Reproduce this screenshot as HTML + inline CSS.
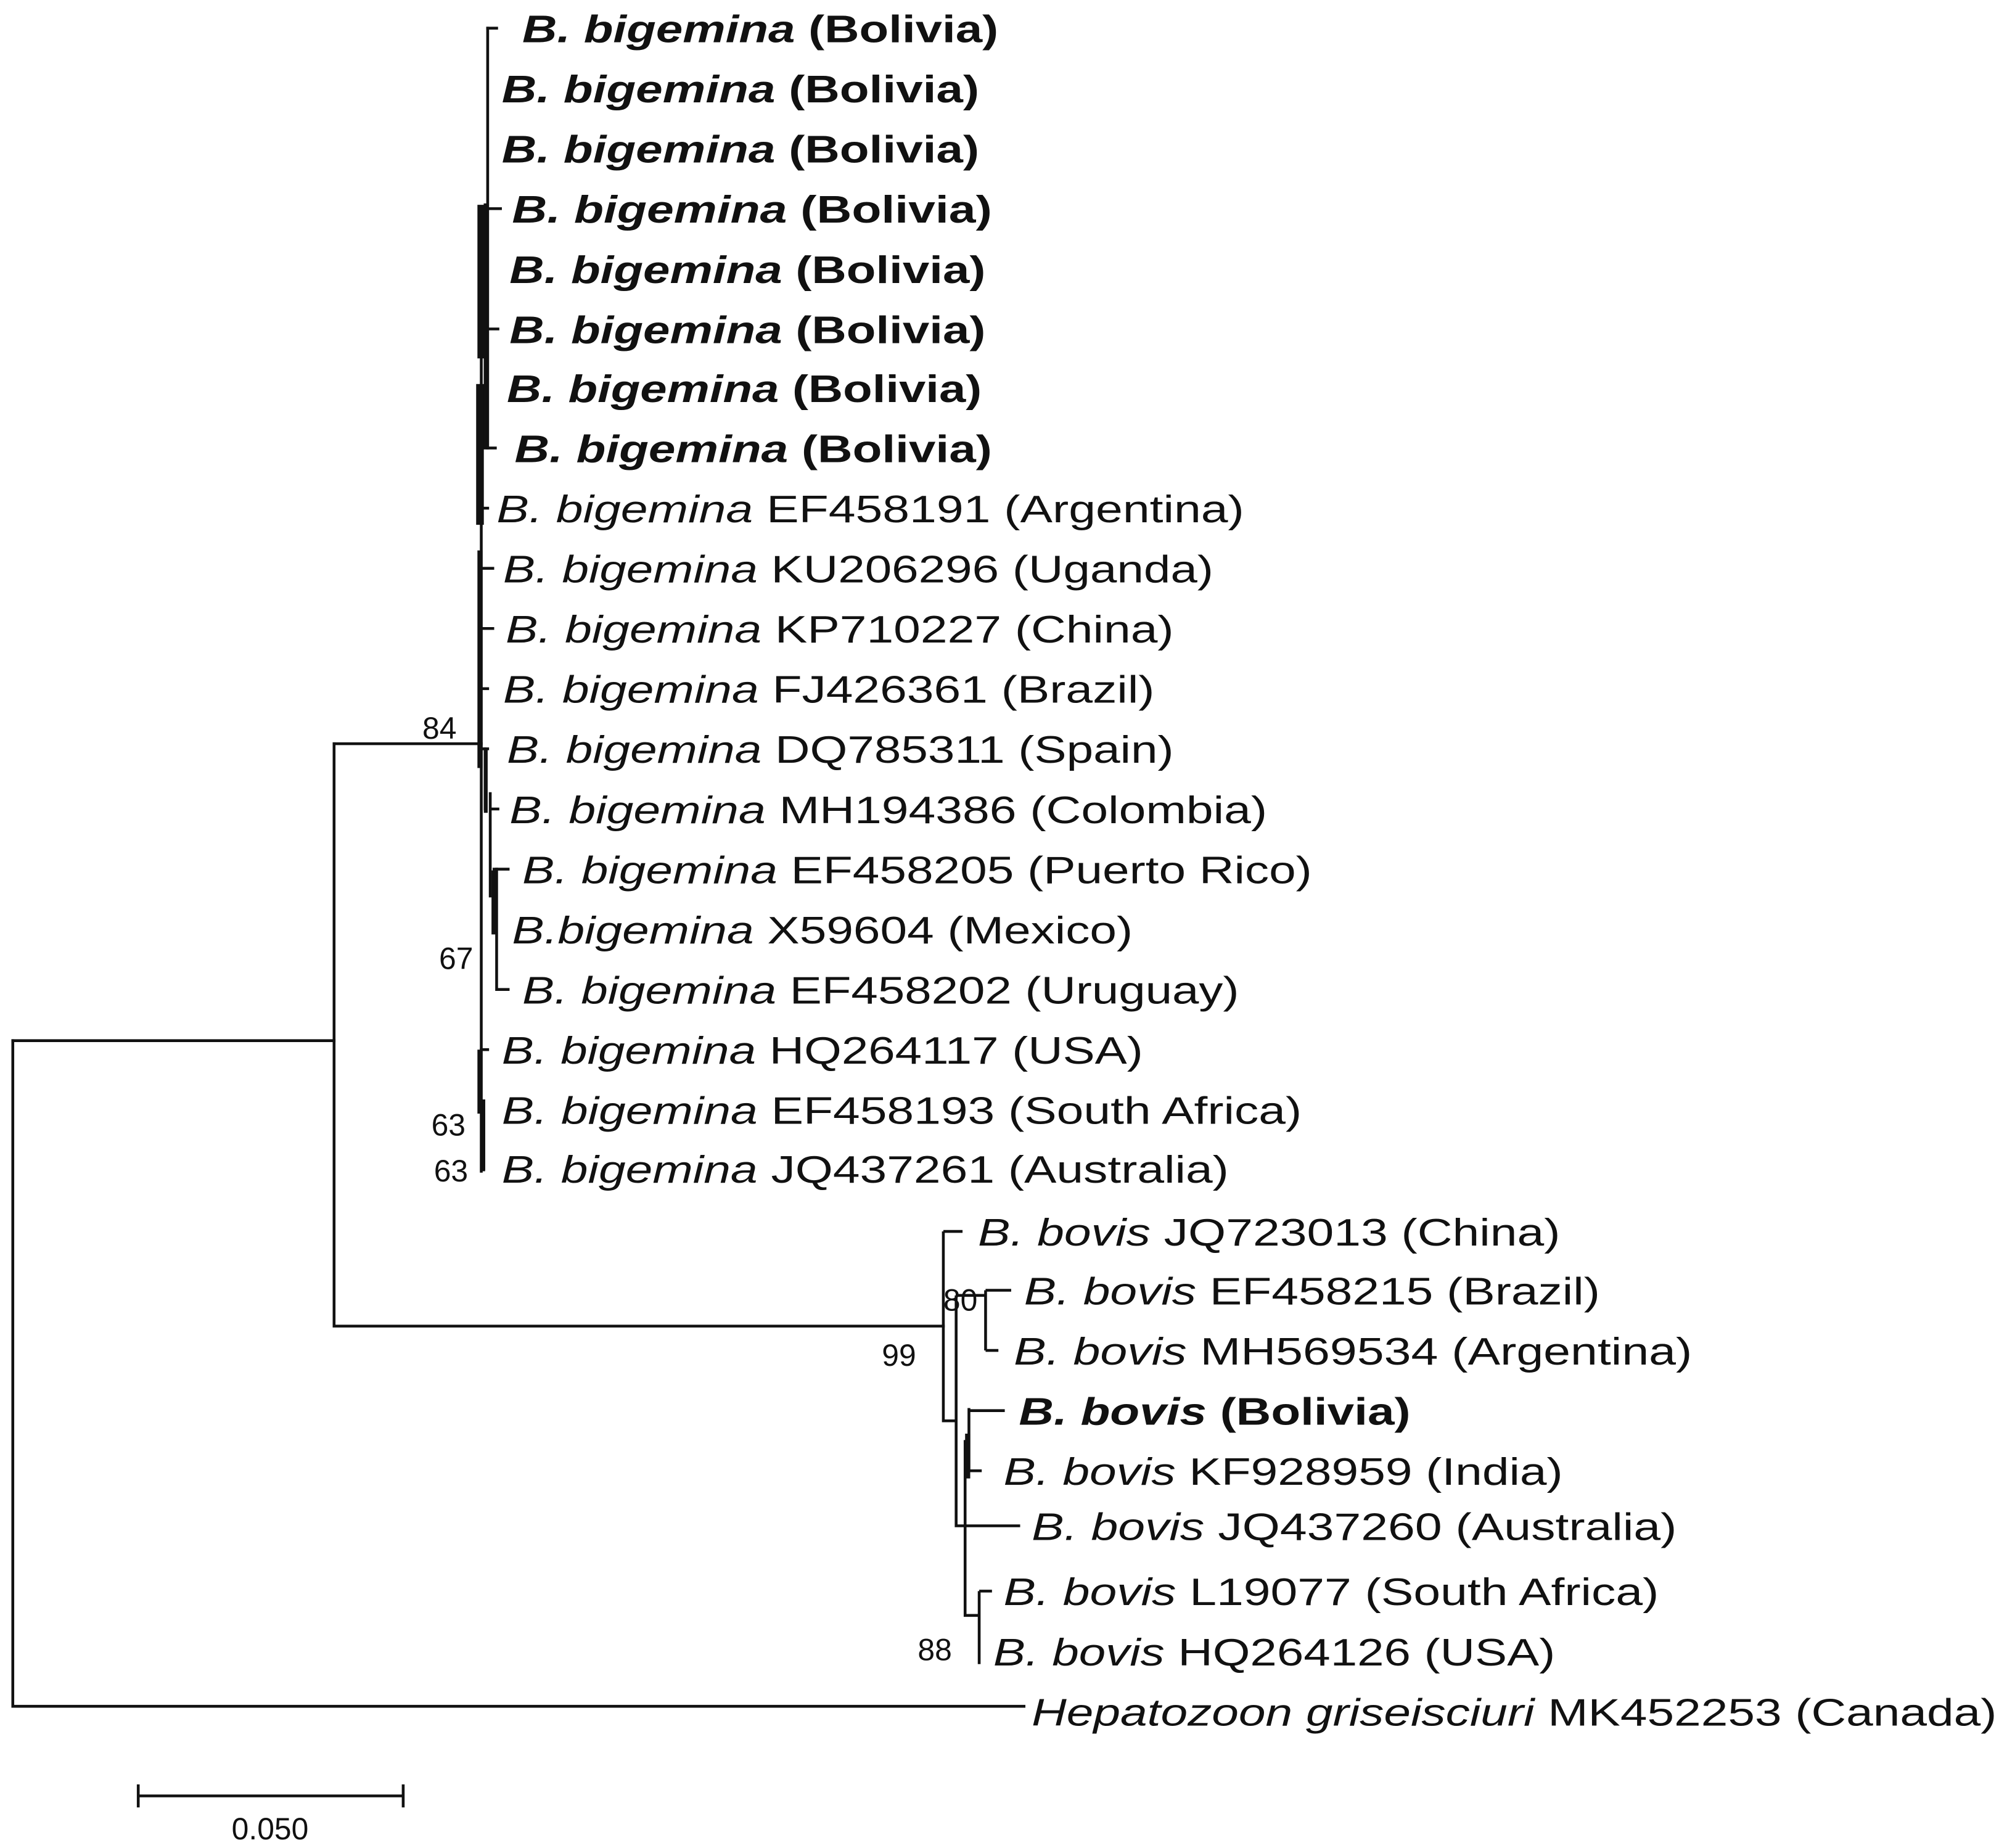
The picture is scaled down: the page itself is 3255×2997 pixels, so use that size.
<!DOCTYPE html>
<html><head><meta charset="utf-8"><style>
html,body{margin:0;padding:0;background:#fff;}
svg{display:block;}
text{font-family:"Liberation Sans",Arial,sans-serif;fill:#111;}
</style></head><body>
<svg width="3255" height="2997" viewBox="0 0 1568 1443.7" preserveAspectRatio="none" xmlns="http://www.w3.org/2000/svg">
<g stroke="#111" stroke-width="2.2" fill="none" stroke-linecap="square">
<path d="M10,813 V1333 H800"/>
<path d="M10,813 H261"/>
<path d="M261,581 V1036 H737"/>
<path d="M261,581 H376"/>
<path d="M381,22 V350"/>
<path d="M381,22 H388"/>
<path d="M381,350 H387"/>
<path d="M376,170 V915"/>
<path d="M379,160 V350"/>
<path d="M381,163 H391"/>
<path d="M381,257 H389"/>
<path d="M376,397 H381"/>
<path d="M376,444 H385"/>
<path d="M376,491 H385"/>
<path d="M376,538 H381"/>
<path d="M376,585 H381"/>
<path d="M379,585 V632"/>
<path d="M383,620 V700"/>
<path d="M385,632 H389"/>
<path d="M386,679 H397"/>
<path d="M388,679 V773 H397"/>
<path d="M376,820 H381"/>
<path d="M378,860 V913"/>
</g>
<g fill="#111">
<rect x="373" y="160" width="6" height="120"/>
<rect x="372" y="300" width="6" height="110"/>
<rect x="373" y="430" width="4" height="170"/>
<rect x="378" y="585" width="3" height="50"/>
<rect x="384" y="680" width="4" height="50"/>
<rect x="373" y="820" width="4" height="50"/>
<rect x="375" y="870" width="4" height="45"/>
</g>
<g stroke="#111" stroke-width="2.2" fill="none">
<path d="M737,962 V1110 H747"/>
<path d="M737,962 H752"/>
<path d="M747,1012 V1192 H797"/>
<path d="M747,1012 H770"/>
<path d="M770,1008 V1055"/>
<path d="M770,1008 H790"/>
<path d="M770,1055 H780"/>
<path d="M757,1100 V1150"/>
<path d="M757,1102 H785"/>
<path d="M757,1149 H767"/>
<path d="M754,1125 V1262 H765"/>
<path d="M765,1243 V1300"/>
<path d="M765,1243 H775"/>
</g>
<rect x="754" y="1120" width="4" height="35" fill="#111"/>
<g stroke="#111" stroke-width="2.2">
<path d="M107,1403 H316"/>
<path d="M108,1394 V1412"/>
<path d="M315,1394 V1412"/>
</g>
<text x="211" y="1437" font-size="24" text-anchor="middle">0.050</text>
<g font-size="24">
<text x="330" y="577">84</text>
<text x="343" y="757">67</text>
<text x="337" y="887">63</text>
<text x="339" y="923">63</text>
<text x="737" y="1024">80</text>
<text x="689" y="1067">99</text>
<text x="717" y="1297">88</text>
</g>
<g font-size="30">
<text x="408" y="33" font-weight="bold" textLength="372" lengthAdjust="spacingAndGlyphs"><tspan font-style="italic">B. bigemina</tspan> (Bolivia)</text>
<text x="392" y="80" font-weight="bold" textLength="373" lengthAdjust="spacingAndGlyphs"><tspan font-style="italic">B. bigemina</tspan> (Bolivia)</text>
<text x="392" y="127" font-weight="bold" textLength="373" lengthAdjust="spacingAndGlyphs"><tspan font-style="italic">B. bigemina</tspan> (Bolivia)</text>
<text x="400" y="174" font-weight="bold" textLength="375" lengthAdjust="spacingAndGlyphs"><tspan font-style="italic">B. bigemina</tspan> (Bolivia)</text>
<text x="398" y="221" font-weight="bold" textLength="372" lengthAdjust="spacingAndGlyphs"><tspan font-style="italic">B. bigemina</tspan> (Bolivia)</text>
<text x="398" y="268" font-weight="bold" textLength="372" lengthAdjust="spacingAndGlyphs"><tspan font-style="italic">B. bigemina</tspan> (Bolivia)</text>
<text x="396" y="314" font-weight="bold" textLength="371" lengthAdjust="spacingAndGlyphs"><tspan font-style="italic">B. bigemina</tspan> (Bolivia)</text>
<text x="402" y="361" font-weight="bold" textLength="373" lengthAdjust="spacingAndGlyphs"><tspan font-style="italic">B. bigemina</tspan> (Bolivia)</text>
<text x="388" y="408" textLength="584" lengthAdjust="spacingAndGlyphs"><tspan font-style="italic">B. bigemina</tspan> EF458191 (Argentina)</text>
<text x="393" y="455" textLength="555" lengthAdjust="spacingAndGlyphs"><tspan font-style="italic">B. bigemina</tspan> KU206296 (Uganda)</text>
<text x="395" y="502" textLength="522" lengthAdjust="spacingAndGlyphs"><tspan font-style="italic">B. bigemina</tspan> KP710227 (China)</text>
<text x="393" y="549" textLength="509" lengthAdjust="spacingAndGlyphs"><tspan font-style="italic">B. bigemina</tspan> FJ426361 (Brazil)</text>
<text x="396" y="596" textLength="521" lengthAdjust="spacingAndGlyphs"><tspan font-style="italic">B. bigemina</tspan> DQ785311 (Spain)</text>
<text x="398" y="643" textLength="592" lengthAdjust="spacingAndGlyphs"><tspan font-style="italic">B. bigemina</tspan> MH194386 (Colombia)</text>
<text x="408" y="690" textLength="617" lengthAdjust="spacingAndGlyphs"><tspan font-style="italic">B. bigemina</tspan> EF458205 (Puerto Rico)</text>
<text x="400" y="737" textLength="485" lengthAdjust="spacingAndGlyphs"><tspan font-style="italic">B.bigemina</tspan> X59604 (Mexico)</text>
<text x="408" y="784" textLength="560" lengthAdjust="spacingAndGlyphs"><tspan font-style="italic">B. bigemina</tspan> EF458202 (Uruguay)</text>
<text x="392" y="831" textLength="501" lengthAdjust="spacingAndGlyphs"><tspan font-style="italic">B. bigemina</tspan> HQ264117 (USA)</text>
<text x="392" y="878" textLength="625" lengthAdjust="spacingAndGlyphs"><tspan font-style="italic">B. bigemina</tspan> EF458193 (South Africa)</text>
<text x="392" y="924" textLength="568" lengthAdjust="spacingAndGlyphs"><tspan font-style="italic">B. bigemina</tspan> JQ437261 (Australia)</text>
<text x="764" y="973" textLength="455" lengthAdjust="spacingAndGlyphs"><tspan font-style="italic">B. bovis</tspan> JQ723013 (China)</text>
<text x="800" y="1019" textLength="450" lengthAdjust="spacingAndGlyphs"><tspan font-style="italic">B. bovis</tspan> EF458215 (Brazil)</text>
<text x="792" y="1066" textLength="530" lengthAdjust="spacingAndGlyphs"><tspan font-style="italic">B. bovis</tspan> MH569534 (Argentina)</text>
<text x="796" y="1113" font-weight="bold" textLength="306" lengthAdjust="spacingAndGlyphs"><tspan font-style="italic">B. bovis</tspan> (Bolivia)</text>
<text x="784" y="1160" textLength="437" lengthAdjust="spacingAndGlyphs"><tspan font-style="italic">B. bovis</tspan> KF928959 (India)</text>
<text x="806" y="1203" textLength="504" lengthAdjust="spacingAndGlyphs"><tspan font-style="italic">B. bovis</tspan> JQ437260 (Australia)</text>
<text x="784" y="1254" textLength="512" lengthAdjust="spacingAndGlyphs"><tspan font-style="italic">B. bovis</tspan> L19077 (South Africa)</text>
<text x="776" y="1301" textLength="439" lengthAdjust="spacingAndGlyphs"><tspan font-style="italic">B. bovis</tspan> HQ264126 (USA)</text>
<text x="806" y="1348" textLength="754" lengthAdjust="spacingAndGlyphs"><tspan font-style="italic">Hepatozoon griseisciuri</tspan> MK452253 (Canada)</text>
</g>
</svg>
</body></html>
